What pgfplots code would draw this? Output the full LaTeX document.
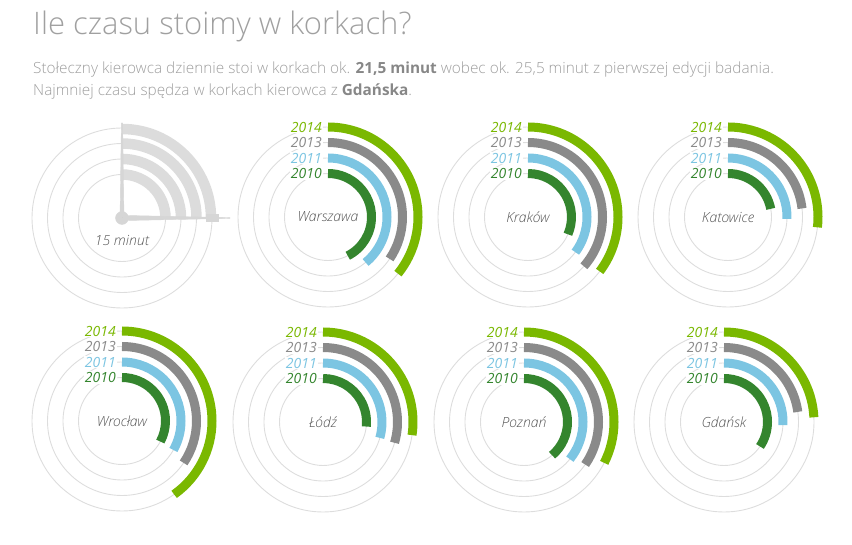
\documentclass[border=0pt]{standalone}
\usepackage{fontspec}
\setmainfont{Open Sans}
\newfontfamily\lightfont{Open Sans Light}
\newfontfamily\regfont{Open Sans}
\usepackage{pgfplots}
\usepackage{pgfplotstable}
\pgfplotsset{compat=1.18}

\definecolor{c2014}{RGB}{122,184,0}
\definecolor{c2013}{RGB}{138,138,138}
\definecolor{c2011}{RGB}{124,197,226}
\definecolor{c2010}{RGB}{52,133,46}
\definecolor{ringc}{RGB}{221,221,221}
\definecolor{legc}{RGB}{220,220,220}
\definecolor{handc}{RGB}{214,214,214}
\definecolor{cityc}{RGB}{85,85,85}
\definecolor{titlec}{RGB}{160,160,160}
\definecolor{subc}{RGB}{158,158,158}
\definecolor{subb}{RGB}{135,135,135}

% panel centres (pixel coordinates of the picture), label and its offset
\pgfplotstableread[col sep=comma]{
x,y,name,dy
122,218,15 minut,22
328,217,Warszawa,0
528,217,Kraków,0
728,217,Katowice,0
122,421,Wrocław,0
323,422,Łódź,0
524,422,Poznań,0
724,422,Gdańsk,0
}\centers

% minutes stood in traffic jams, per city (same order as above, without the legend)
\pgfplotstableread{
x y m
328 217 25.5
528 217 18.9
728 217 13.2
122 421 19.7
323 422 16.0
524 422 23.3
724 422 20.7
}\yearA % 2010

\pgfplotstableread{
x y m
328 217 23.4
528 217 21.1
728 217 15.3
122 421 19.9
323 422 17.6
524 422 21.5
724 422 15.5
}\yearB % 2011

\pgfplotstableread{
x y m
328 217 20.7
528 217 21.9
728 217 13.9
122 421 20.7
323 422 17.7
524 422 20.8
724 422 13.7
}\yearC % 2013

\pgfplotstableread{
x y m
328 217 21.5
528 217 21.2
728 217 16.1
122 421 24.1
323 422 16.4
524 422 19.5
724 422 14.5
}\yearD % 2014

\pgfplotstableread{
x y m
122 218 15
}\legenddata

\pgfplotsset{
  rings/.style={only marks, mark=*, mark size=0pt, scatter, point meta=explicit symbolic,
    visualization depends on={\thisrow{dy} \as \cdy},
    scatter/@pre marker code/.code={%
      \foreach \r in {43.5,59,74.5,90} {\draw[line width=0.9pt, color=ringc] (0pt,0pt) circle[radius=\r pt];}
      \node[inner sep=0pt, font=\lightfont\itshape\fontsize{14}{16}\selectfont, text=cityc] at (0pt,-\cdy pt) {\pgfplotspointmeta};
    },
    scatter/@post marker code/.code={}},
  yeararc/.style n args={4}{only marks, mark=*, mark size=0pt, scatter, point meta=x,
    visualization depends on={\thisrow{m} \as \mins},
    scatter/@pre marker code/.code={%
      \draw[line width=#4, color=#2, line cap=butt] (0pt,#1pt) arc[start angle=90, end angle={90-6*\mins}, radius=#1pt];
      \node[anchor=east, inner sep=1pt, fill=white, text=#2, font=\regfont\itshape\fontsize{14}{16}\selectfont] at (-5pt,#1pt) {#3};
    },
    scatter/@post marker code/.code={}},
  legarc/.style={only marks, mark=*, mark size=0pt, scatter, point meta=x,
    visualization depends on={\thisrow{m} \as \mins},
    scatter/@pre marker code/.code={%
      \foreach \r in {43.5,59,74.5,89} {\draw[line width=10.5pt, color=legc, line cap=butt] (0pt,\r pt) arc[start angle=90, end angle={90-6*\mins}, radius=\r pt];}
      \foreach \h in {4,5,7,8,10,11} {\fill[handc, rotate={90-30*\h}] (85pt,-2.2pt) rectangle (93pt,2.2pt);}
      \foreach \h in {6,9} {\fill[handc, rotate={90-30*\h}] (84pt,-3.5pt) rectangle (96pt,3.5pt);}
      \fill[handc] (-2pt,0pt) -- (-0.6pt,95pt) -- (0.6pt,95pt) -- (2pt,0pt) -- cycle;
      \fill[handc] (0pt,-2.6pt) -- (108pt,-0.4pt) -- (108pt,0.4pt) -- (0pt,2.6pt) -- cycle;
      \fill[handc] (0pt,0pt) circle[radius=6.5pt];
    },
    scatter/@post marker code/.code={}},
}

\begin{document}
\begin{tikzpicture}
\path[use as bounding box] (0,0) rectangle (852pt,545pt);
\begin{axis}[at={(0,0)}, anchor=south west, scale only axis,
  width=852pt, height=545pt, xmin=0, xmax=852, ymin=0, ymax=545,
  y dir=reverse, hide axis, clip=false]

\addplot[rings] table[col sep=comma, meta=name] {\centers};
\addplot[legarc] table {\legenddata};
\addplot[yeararc={90}{c2014}{2014}{9pt}] table {\yearD};
\addplot[yeararc={74.5}{c2013}{2013}{9pt}] table {\yearC};
\addplot[yeararc={59}{c2011}{2011}{9pt}] table {\yearB};
\addplot[yeararc={43.5}{c2010}{2010}{9pt}] table {\yearA};

\node[anchor=base west, inner sep=0pt, font=\lightfont\fontsize{31}{36}\selectfont, text=titlec] at (axis cs:33,35) {Ile czasu stoimy w korkach?};
\node[anchor=base west, inner sep=0pt, font=\lightfont\fontsize{15.35}{20}\selectfont, text=subc] at (axis cs:33,73.5) {Stołeczny kierowca dziennie stoi w korkach ok. {\regfont\bfseries\color{subb}21,5 minut} wobec ok. 25,5 minut z pierwszej edycji badania.};
\node[anchor=base west, inner sep=0pt, font=\lightfont\fontsize{15.35}{20}\selectfont, text=subc] at (axis cs:33,95.5) {Najmniej czasu spędza w korkach kierowca z {\regfont\bfseries\color{subb}Gdańska}.};
\end{axis}
\end{tikzpicture}
\end{document}
